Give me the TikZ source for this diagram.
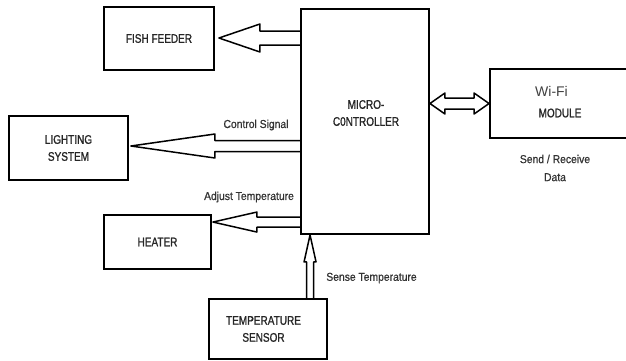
\documentclass[tikz,border=0pt]{standalone}
\usepackage{fontspec}
\setmainfont{Liberation Sans}
\newfontfamily\boxfont{Liberation Sans}[FakeStretch=0.8,FakeBold=1.2]
\newfontfamily\lblfont{Liberation Sans}[FakeStretch=0.9,FakeBold=0.8]
\usetikzlibrary{calc,backgrounds}
\newcommand\leftblock[5]{\draw[blk] let \p1=(#1),\p2=(#2) in (\x1,\y2+#5) -- (\x2+#3,\y2+#5) -- (\x2+#3,\y2+#4) -- (\x2,\y2) -- (\x2+#3,\y2-#4) -- (\x2+#3,\y2-#5) -- (\x1,\y2-#5);}
\begin{document}
\begin{tikzpicture}[x=1pt,y=-1pt,
  box/.style={draw=black, line width=1.9pt, inner sep=0pt, font=\boxfont\fontsize{12.5}{17}\selectfont, text=black!85, align=center},
  boxtext/.style={font=\boxfont\fontsize{12.5}{17}\selectfont, text=black!85, align=center, inner sep=0pt},
  lbl/.style={font=\lblfont\fontsize{11.5}{18}\selectfont, text=black!80, align=center, inner sep=0pt},
  blk/.style={draw=black, line width=1.5pt, fill=white, line join=round}]
\useasboundingbox (0,0) rectangle (626,360);

% boxes
\node[box, minimum width=110pt, minimum height=63pt] (ff) at (159,38.5) {FISH FEEDER};
\node[box, minimum width=128pt, minimum height=225pt] (mc) at (365,121.5) {};
\node[boxtext] (mct) at (366,113) {MICRO-\\C0NTROLLER};
\node[box, minimum width=119pt, minimum height=64pt] (ls) at (68.5,148) {LIGHTING\\SYSTEM};
\node[box, minimum width=107pt, minimum height=54pt] (ht) at (157.5,242) {HEATER};
\node[box, minimum width=118pt, minimum height=60pt] (ts) at (268,329) {\hspace*{-9pt}TEMPERATURE\\\hspace*{-9pt}SENSOR};
\node[box, minimum width=138pt, minimum height=69pt] (wf) at (559,103.5) {};
\node[font=\fontsize{14}{16}\selectfont, text=black!75, inner sep=0pt] (wft) at (551.5,91) {Wi-Fi};
\node[boxtext] (wfm) at (560,113) {MODULE};

% connector end points
\coordinate (ffB) at ($(ff.east)+(4,-0.5)$);
\coordinate (ffA) at (mc.west |- ffB);
\coordinate (lsB) at ($(ls.east)+(2,-2)$);
\coordinate (lsA) at (mc.west |- lsB);
\coordinate (htB) at ($(ht.north east)+(1,8)$);
\coordinate (htA) at (mc.west |- htB);
\coordinate (tsA) at ($(ts.north west)+(102,0)$);
\coordinate (tsB) at (mc.south -| tsA);
\coordinate (wfA) at (mc.east |- wf.west);

\begin{scope}[on background layer]
\leftblock{ffA}{ffB}{41pt}{14pt}{7pt}
\leftblock{lsA}{lsB}{84pt}{12pt}{5.5pt}
\leftblock{htA}{htB}{44pt}{10pt}{5pt}
\draw[blk] let \p1=(tsA),\p2=(tsB) in (\x2-3.5pt,\y1) -- (\x2-3.5pt,\y2-27pt) -- (\x2-6pt,\y2-27pt) -- (\x2,\y2) -- (\x2+6pt,\y2-27pt) -- (\x2+3.5pt,\y2-27pt) -- (\x2+3.5pt,\y1);
\draw[blk] let \p1=(wfA),\p2=(wf.west) in (\x1,\y1) -- (\x1+15pt,\y1+10.5pt) -- (\x1+15pt,\y1+5.5pt) -- (\x2-15pt,\y1+5.5pt) -- (\x2-15pt,\y1+10.5pt) -- (\x2,\y1) -- (\x2-15pt,\y1-10.5pt) -- (\x2-15pt,\y1-5.5pt) -- (\x1+15pt,\y1-5.5pt) -- (\x1+15pt,\y1-10.5pt) -- cycle;
\end{scope}

% labels
\node[lbl] (cs) at (256,125) {Control Signal};
\node[lbl] (at) at (249,197) {Adjust Temperature};
\node[lbl] (st) at (371.5,278) {Sense Temperature};
\node[lbl] (sr) at (555,168) {Send / Receive\\Data};
\end{tikzpicture}
\end{document}
